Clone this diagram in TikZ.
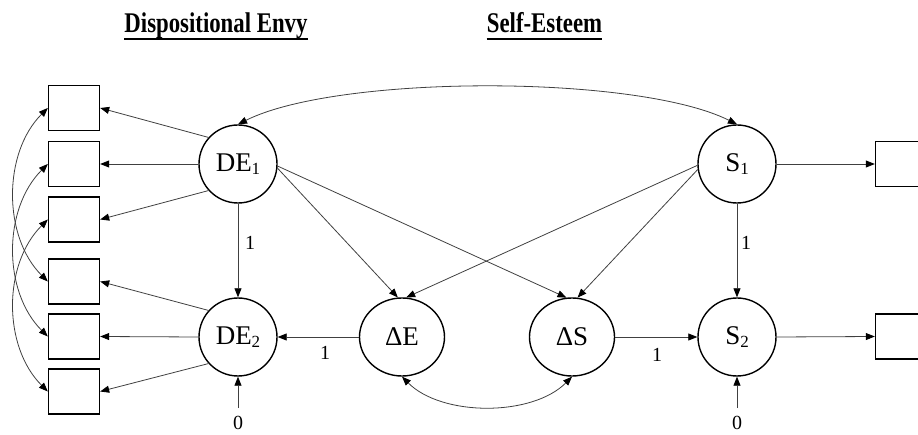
\documentclass[tikz,border=0pt]{standalone}
\usepackage{fontspec}
\setmainfont{Liberation Serif}
\usetikzlibrary{arrows.meta,shapes.geometric}
\newcommand{\subtxt}[1]{\raisebox{-0.12em}{\fontsize{17}{17}\selectfont #1}}
\newcommand{\condtitle}[1]{\scalebox{0.8}[1]{#1}}
\begin{document}
\begin{tikzpicture}[x=1pt,y=-1pt,
  lat/.style={circle, draw, line width=1.4pt, minimum size=78pt, inner sep=0pt, font=\fontsize{27}{27}\selectfont},
  ell/.style={ellipse, draw, line width=1.4pt, minimum width=85pt, minimum height=78pt, inner sep=0pt, font=\fontsize{27}{27}\selectfont},
  box/.style={rectangle, draw, line width=1.4pt, minimum width=51pt, minimum height=45pt, inner sep=0pt},
  num/.style={inner sep=0pt, font=\fontsize{20}{20}\selectfont},
  title/.style={inner sep=0pt, font=\fontsize{28.5}{28.5}\selectfont\bfseries},
  conn/.style={draw=black!75, line width=0.8pt, -{Triangle[length=9pt,width=7pt,black]}},
  conn2/.style={draw=black!75, line width=0.8pt, {Triangle[length=9pt,width=7pt,black]}-{Triangle[length=9pt,width=7pt,black]}}]
\useasboundingbox (0,0) rectangle (918,435);
% titles
\node[title, anchor=base] (t1) at (216,33) {\condtitle{Dispositional Envy}};
\node[title, anchor=base] (t2) at (544.5,33) {\condtitle{Self-Esteem}};
\draw[line width=2.2pt] ([yshift=-6pt]t1.base west) -- ([yshift=-6pt]t1.base east);
\draw[line width=2.2pt] ([yshift=-6pt]t2.base west) -- ([yshift=-6pt]t2.base east);
% latent nodes
\node[lat] (DE1) at (238,164) {DE\subtxt{1}};
\node[lat] (DE2) at (238,337) {DE\subtxt{2}};
\node[lat] (S1) at (737,164) {S\subtxt{1}};
\node[lat] (S2) at (737,337) {S\subtxt{2}};
\node[ell] (dE) at (402,337) {ΔE};
\node[ell] (dS) at (572,337) {ΔS};
% boxes
\node[box] (b1) at (74,108) {};
\node[box] (b2) at (74,164) {};
\node[box] (b3) at (74,219.5) {};
\node[box] (b4) at (74,281.5) {};
\node[box] (b5) at (74,336.5) {};
\node[box] (b6) at (74,391.5) {};
\node[box] (rb1) at (901,164) {};
\node[box] (rb2) at (901,336.5) {};
% zero inputs
\coordinate (z1s) at (238,408);
\coordinate (z2s) at (737,408);
\node[num, anchor=base] (z1) at (238,429.5) {0};
\node[num, anchor=base] (z2) at (737,429.5) {0};
% labels
\node[num] (l1) at (250,243) {1};
\node[num] (l2) at (746,243) {1};
\node[num] (l3) at (325,352.5) {1};
\node[num] (l4) at (657,355) {1};
% loadings
\draw[conn] (DE1.138) -- (b1.east);
\draw[conn] (DE1.west) -- (b2.east);
\draw[conn] (DE1.222) -- (b3.east);
\draw[conn] (DE2.138) -- (b4.east);
\draw[conn] (DE2.west) -- (b5.east);
\draw[conn] (DE2.222) -- (b6.east);
\draw[conn] (S1.east) -- (rb1.west);
\draw[conn] (S2.east) -- (rb2.west);
% structural
\draw[conn] (DE1.south) -- (DE2.north);
\draw[conn] (S1.south) -- (S2.north);
\draw[conn] (dE.west) -- (DE2.east);
\draw[conn] (dS.east) -- (S2.west);
\draw[conn] (DE1.-6) -- (dE.96);
\draw[conn] (DE1.-3) -- (dS.98);
\draw[conn] (S1.182) -- (dE.84);
\draw[conn] (S1.188) -- (dS.82);
\draw[conn] (z1s) -- (DE2.south);
\draw[conn] (z2s) -- (S2.south);
% covariances
\draw[conn2] (b1.west) .. controls +(-45,45) and +(-45,-45) .. (b4.west);
\draw[conn2] (b2.west) .. controls +(-45,45) and +(-45,-45) .. (b5.west);
\draw[conn2] (b3.west) .. controls +(-45,45) and +(-45,-45) .. (b6.west);
\draw[conn2] (DE1.north) .. controls +(100,-50) and +(-100,-50) .. (S1.north);
\draw[conn2] (dE.south) .. controls +(40,40) and +(-40,40) .. (dS.south);
\end{tikzpicture}
\end{document}
